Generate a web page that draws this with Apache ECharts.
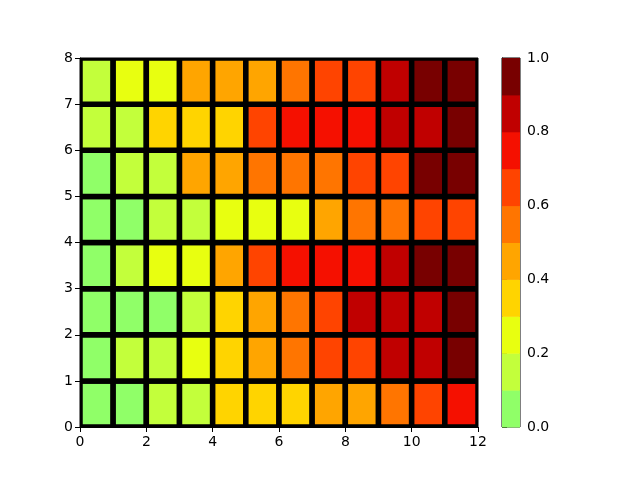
<!DOCTYPE html>
<html>
<head>
<meta charset="utf-8">
<script src="https://cdn.jsdelivr.net/npm/echarts@6/dist/echarts.min.js"></script>
<style>html,body{margin:0;padding:0;background:#fff;}#c{width:640px;height:480px;}</style>
</head>
<body>
<div id="c"></div>
<script>
// Cell values, one array per row, from bottom row (y 0-1) to top row (y 7-8)
const row0 = [0.05, 0.05, 0.15, 0.15, 0.35, 0.35, 0.35, 0.45, 0.45, 0.55, 0.65, 0.75];
const row1 = [0.05, 0.15, 0.15, 0.25, 0.35, 0.45, 0.55, 0.65, 0.65, 0.85, 0.85, 0.95];
const row2 = [0.05, 0.05, 0.05, 0.15, 0.35, 0.45, 0.55, 0.65, 0.85, 0.85, 0.85, 0.95];
const row3 = [0.05, 0.15, 0.25, 0.25, 0.45, 0.65, 0.75, 0.75, 0.75, 0.85, 0.95, 0.95];
const row4 = [0.05, 0.05, 0.15, 0.15, 0.25, 0.25, 0.25, 0.45, 0.55, 0.55, 0.65, 0.65];
const row5 = [0.05, 0.15, 0.15, 0.45, 0.45, 0.55, 0.55, 0.55, 0.65, 0.65, 0.95, 0.95];
const row6 = [0.15, 0.15, 0.35, 0.35, 0.35, 0.65, 0.75, 0.75, 0.75, 0.85, 0.85, 0.95];
const row7 = [0.15, 0.25, 0.25, 0.45, 0.45, 0.45, 0.55, 0.65, 0.65, 0.85, 0.95, 0.95];
const rows = [row0, row1, row2, row3, row4, row5, row6, row7];

// Colorbar levels and colours
const levels = [0.0, 0.1, 0.2, 0.3, 0.4, 0.5, 0.6, 0.7, 0.8, 0.9, 1.0];
const levelColors = ['#90ff68', '#c3ff3b', '#e8ff10', '#ffd400', '#ffa500',
                     '#ff7500', '#ff4400', '#f51000', '#c00000', '#780000'];
const xTicks = [0, 2, 4, 6, 8, 10, 12];
const yTicks = [0, 1, 2, 3, 4, 5, 6, 7, 8];
const cbTicks = [0.0, 0.2, 0.4, 0.6, 0.8, 1.0];

function colorFor(v) {
  for (let k = 0; k < levelColors.length; k++) {
    if (v >= levels[k] && v < levels[k + 1]) return levelColors[k];
  }
  return levelColors[levelColors.length - 1];
}

const cellData = [];
rows.forEach((r, j) => r.forEach((v, i) => cellData.push([i, j, v])));
const cbData = levelColors.map((c, k) => [levels[k], levels[k + 1], k]);

const font = {color: '#000', fontSize: 14, fontFamily: 'DejaVu Sans'};
const axisCommon = {
  axisLine: {show: true, lineStyle: {color: '#000', width: 1}},
  axisTick: {show: true, length: 5, lineStyle: {color: '#000', width: 1}},
  splitLine: {show: false}
};

const chart = echarts.init(document.getElementById('c'), null, {renderer: 'canvas'});
chart.setOption({
  animation: false,
  backgroundColor: '#fff',
  grid: [
    {left: 80, top: 58, width: 398, height: 369, show: true, borderColor: '#000', borderWidth: 1, backgroundColor: 'transparent'},
    {left: 502, top: 58, width: 18, height: 369, show: true, borderColor: '#000', borderWidth: 1, backgroundColor: 'transparent'}
  ],
  xAxis: [
    Object.assign({type: 'value', gridIndex: 0, min: xTicks[0], max: xTicks[xTicks.length - 1], interval: 2,
      axisLabel: Object.assign({margin: 8}, font)}, axisCommon),
    {type: 'value', gridIndex: 1, min: 0, max: 1, show: false}
  ],
  yAxis: [
    Object.assign({type: 'value', gridIndex: 0, min: yTicks[0], max: yTicks[yTicks.length - 1], interval: 1,
      axisLabel: Object.assign({margin: 7}, font)}, axisCommon),
    Object.assign({type: 'value', gridIndex: 1, min: 0, max: 1, interval: 0.2, position: 'right',
      axisLabel: Object.assign({margin: 7, formatter: v => v.toFixed(1)}, font)}, axisCommon)
  ],
  series: [
    {
      type: 'custom',
      xAxisIndex: 0, yAxisIndex: 0,
      clip: true,
      data: cellData,
      encode: {x: 0, y: 1},
      renderItem: function (params, api) {
        const x = api.value(0), y = api.value(1), v = api.value(2);
        const p0 = api.coord([x, y + 1]);
        const p1 = api.coord([x + 1, y]);
        return {
          type: 'rect',
          shape: {x: p0[0], y: p0[1], width: p1[0] - p0[0], height: p1[1] - p0[1]},
          style: {fill: colorFor(v), stroke: '#000', lineWidth: 5.5}
        };
      }
    },
    {
      type: 'custom',
      xAxisIndex: 1, yAxisIndex: 1,
      data: cbData,
      encode: {y: [0, 1]},
      renderItem: function (params, api) {
        const lo = api.value(0), hi = api.value(1), k = api.value(2);
        const p0 = api.coord([0, hi]);
        const p1 = api.coord([1, lo]);
        return {
          type: 'rect',
          shape: {x: p0[0], y: p0[1], width: p1[0] - p0[0], height: p1[1] - p0[1] + 0.5},
          style: {fill: levelColors[k]}
        };
      }
    }
  ]
});
</script>
</body>
</html>
